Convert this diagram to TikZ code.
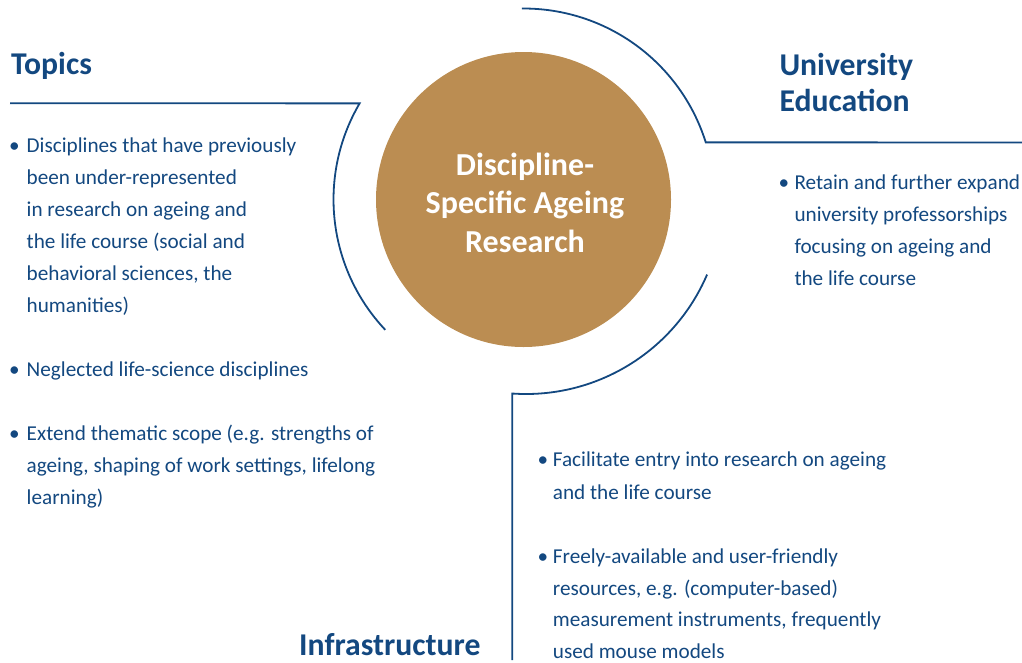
\documentclass[tikz,border=0pt]{standalone}
\usepackage{fontspec}
\usetikzlibrary{calc}
\setmainfont{Carlito}
\definecolor{navy}{RGB}{19,72,128}
\definecolor{gold}{RGB}{187,141,82}
\begin{document}
\begin{tikzpicture}[x=1pt,y=1pt,
  rule/.style={draw=navy,line width=1.8pt,line join=miter},
  heading/.style={text=navy,font=\fontsize{31.7}{37}\selectfont\bfseries,inner sep=0pt,anchor=base west},
  hubline/.style={text=white,font=\fontsize{32}{38}\selectfont\bfseries,inner sep=0pt,anchor=base},
  body/.style={text=navy,font=\fontsize{21.2}{32}\selectfont,inner sep=0pt,anchor=base west}]
\useasboundingbox (0,0) rectangle (1022,-662);

% central disc
\coordinate (c) at (523.5,-199.5);
\node[circle,fill=gold,minimum size=295pt,inner sep=0pt] (hub) at (c) {};
\node[hubline] (hub1) at (525,-175.7) {Discipline-};
\node[hubline] (hub2) at (525,-213.3) {Specific Ageing};
\node[hubline] (hub3) at (525,-252.3) {Research};

% bracket arcs around the disc
\coordinate (lstart) at ($(c)+(149.6:190)$);
\coordinate (lend) at (10,-103.3);
\draw[rule] (lend) -- (lstart) arc[start angle=149.6,end angle=223.3,radius=190];

\coordinate (tstart) at ($(c)+(90.5:191)$);
\coordinate (tend) at (1022,-142.4);
\draw[rule] (tstart) arc[start angle=90.5,end angle=17.4,radius=191] -- (tend);

\coordinate (c2) at (526,-197);
\coordinate (bstart) at ($(c2)+(-23.2:197)$);
\coordinate (bcorner) at ($(c2)+(-94:197)$);
\coordinate (bend) at (bcorner |- 0,-660);
\draw[rule] (bstart) arc[start angle=-23.2,end angle=-94,radius=197] -- (bend);

% headings
\node[heading] (topics) at (11,-74.5) {Topics};
\node[heading] (uni1) at (779.3,-75) {University};
\node[heading] (uni2) at (779.3,-111.7) {Education};
\node[heading] (infra) at (299,-655.5) {Infrastructure};

% Topics items
\node[body] (tdotA) at (9,-152.3) {•};
\foreach \t [count=\i from 0] in {Disciplines that have previously, been under-represented, in research on ageing and, the life course (social and, {behavioral sciences, the}, humanities)}
  \node[body] (topA\i) at (26.5,-152.3-32.1*\i) {\t};
\node[body] (tdotB) at (9,-376.7) {•};
\node[body] (topB0) at (26.5,-376.7) {Neglected life-science disciplines};
\node[body] (tdotC) at (9,-440.7) {•};
\foreach \t [count=\i from 0] in {Extend thematic scope (e.g. strengths of, {ageing, shaping of work settings, lifelong}, learning)}
  \node[body] (topC\i) at (26.5,-440.7-32*\i) {\t};

% University Education item
\node[body] (udot) at (778.5,-189) {•};
\foreach \t [count=\i from 0] in {Retain and further expand, university professorships, focusing on ageing and, the life course}
  \node[body] (uniA\i) at (794.3,-189-32*\i) {\t};

% Infrastructure items
\node[body] (idotA) at (537.5,-466.7) {•};
\foreach \t [count=\i from 0] in {Facilitate entry into research on ageing, and the life course}
  \node[body] (infA\i) at (552.7,-466.7-32.6*\i) {\t};
\node[body] (idotB) at (537.5,-563.3) {•};
\foreach \t [count=\i from 0] in {Freely-available and user-friendly, {resources, e.g. (computer-based)}, {measurement instruments, frequently}, used mouse models}
  \node[body] (infB\i) at (552.7,-563.3-31.7*\i) {\t};
\end{tikzpicture}
\end{document}
